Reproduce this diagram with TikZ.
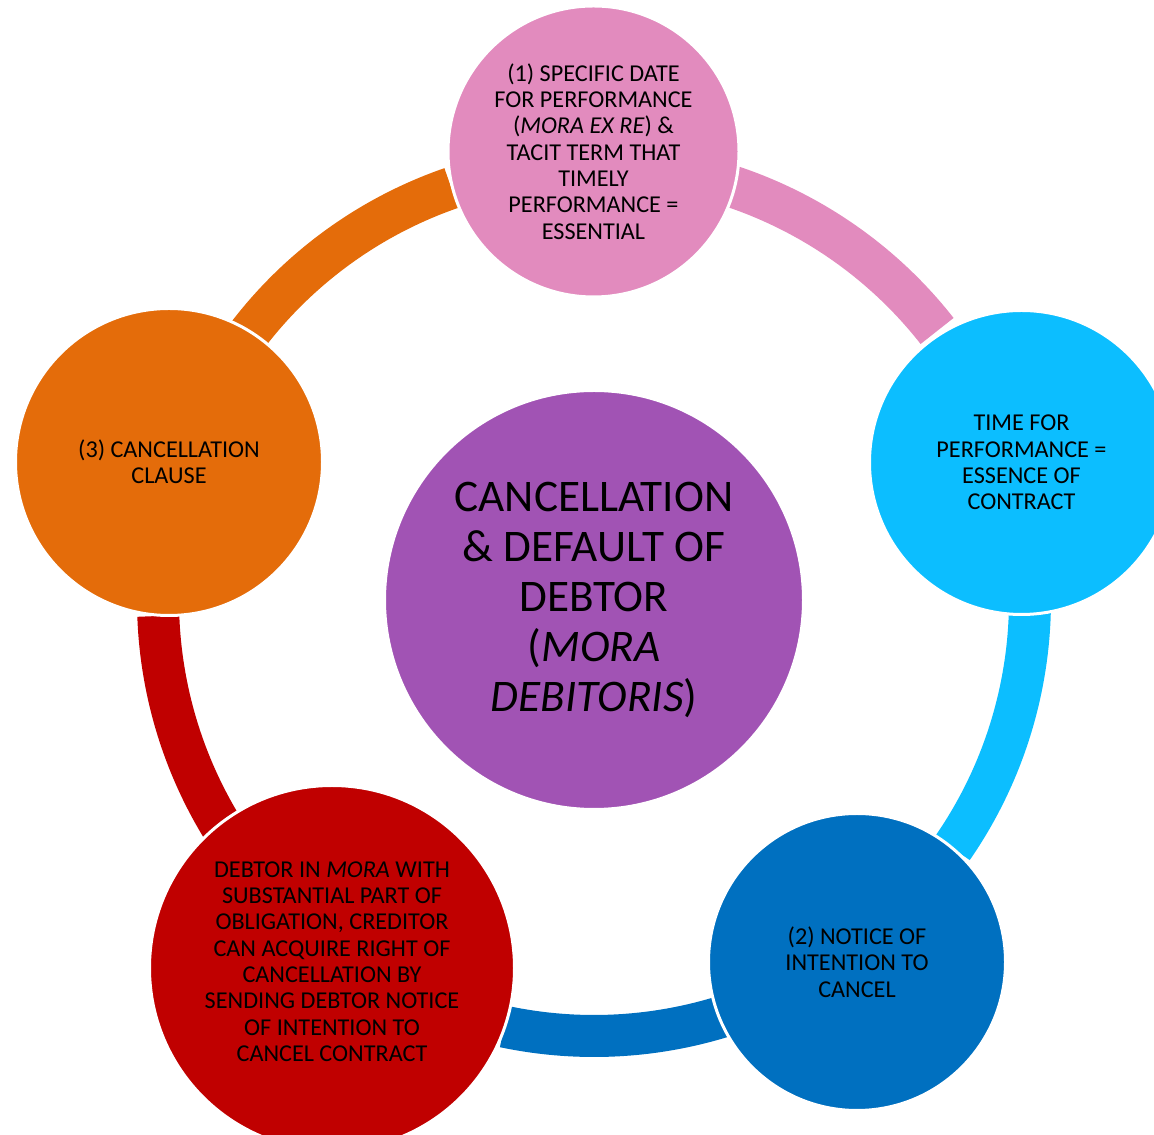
\documentclass[tikz,border=0pt]{standalone}
\usepackage{fontspec}
\setmainfont{Carlito}
\definecolor{pinkc}{RGB}{226,139,190}
\definecolor{cyanc}{RGB}{12,190,255}
\definecolor{bluec}{RGB}{0,112,192}
\definecolor{redc}{RGB}{192,0,0}
\definecolor{orangec}{RGB}{228,108,10}
\definecolor{purplec}{RGB}{161,83,180}
\begin{document}
\begin{tikzpicture}[x=1pt, y=1pt, bubble/.style={circle, draw=white, line width=3pt, inner sep=0pt, align=center, text=black, font=\fontsize{24.2}{26.3}\selectfont}]
      \useasboundingbox (0,0) rectangle (1154,1135);
      \clip (0,0) rectangle (1154,1135);
      \coordinate (ring) at (594,535);

      \foreach \start/\stop/\edgecolor in {
        90/38.1/pinkc, 17.8/-34.7/cyanc, -54/-101.9/bluec,
        -125.5/-177.9/redc, 162/109.1/orangec}
        \draw[\edgecolor, line width=42pt] ([shift={(\start:436pt)}]ring) arc[start angle=\start, end angle=\stop, radius=436pt];

      \node[bubble, minimum size=419pt, fill=purplec, font=\fontsize{45.2}{50}\selectfont] (0) at (ring) {CANCELLATION\\ \& DEFAULT OF\\ DEBTOR\\ (\textit{MORA}\\ \textit{DEBITORIS})};
      \node[bubble, minimum size=291pt, fill=pinkc] (1) at (593.5,983.5) {(1) SPECIFIC DATE\\ FOR PERFORMANCE\\ (\textit{MORA EX RE}) \&\\ TACIT TERM THAT\\ TIMELY\\ PERFORMANCE =\\ ESSENTIAL};
      \node[bubble, minimum size=304pt, fill=cyanc] (2) at (1021.5,672.5) {TIME FOR\\ PERFORMANCE =\\ ESSENCE OF\\ CONTRACT};
      \node[bubble, minimum size=297pt, fill=bluec] (3) at (857,173) {(2) NOTICE OF\\ INTENTION TO\\ CANCEL};
      \node[bubble, minimum size=365pt, fill=redc, label={[align=center, font=\fontsize{24.2}{26.3}\selectfont, yshift=6.5pt]center:{DEBTOR IN \textit{MORA} WITH\\ SUBSTANTIAL PART OF\\ OBLIGATION, CREDITOR\\ CAN ACQUIRE RIGHT OF\\ CANCELLATION BY\\ SENDING DEBTOR NOTICE\\ OF INTENTION TO\\ CANCEL CONTRACT}}] (4) at (332,167) {};
      \node[bubble, minimum size=307pt, fill=orangec] (5) at (169,673) {(3) CANCELLATION\\ CLAUSE};
\end{tikzpicture}
\end{document}
